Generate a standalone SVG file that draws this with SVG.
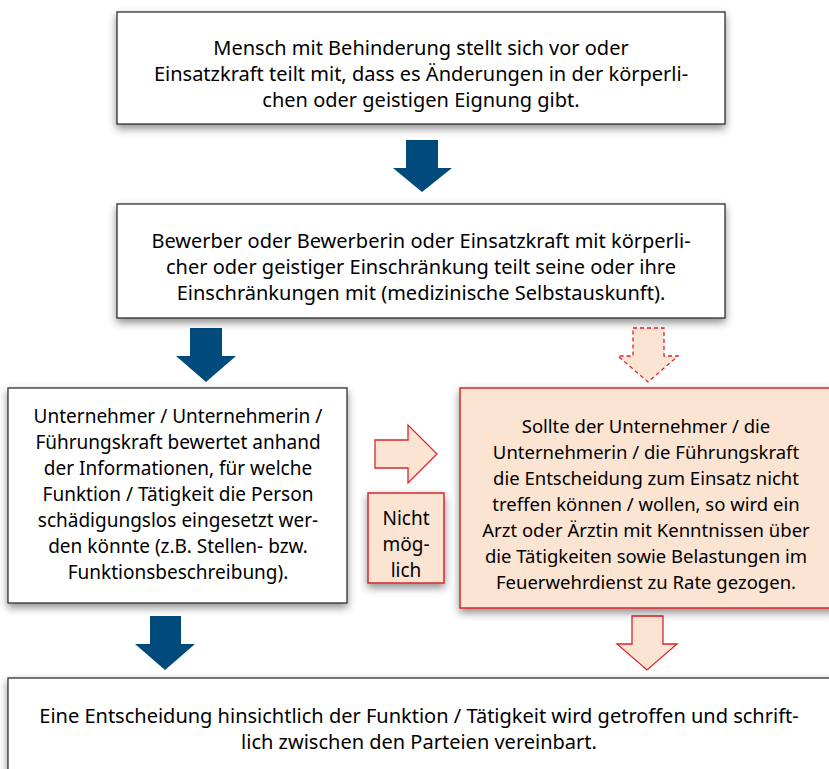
<svg xmlns="http://www.w3.org/2000/svg" width="829" height="769" viewBox="0 0 829 769">
<defs>
<filter id="sh" x="-10%" y="-10%" width="120%" height="130%">
<feDropShadow dx="0" dy="4" stdDeviation="4" flood-color="#000" flood-opacity="0.45"/>
</filter>
<style>
.box{fill:#fff;stroke:#222;stroke-width:1.2}
.rbox{fill:#fce4d3;stroke:#d9262e;stroke-width:1.5}
.blue{fill:#004a7c}
.rarr{fill:#fce4d3;stroke:#d9262e;stroke-width:1.3}
.darr{fill:#fce4d3;stroke:#d9262e;stroke-width:1.3;stroke-dasharray:4 3}
text{font-family:"Noto Sans","Open Sans",sans-serif;font-size:19px;fill:#000;text-anchor:middle}
.big{font-size:20px}
.sm{font-size:18.5px}
</style>
</defs>
<g id="connectors">
<path class="blue" d="M406,140 H438 V168 H452 L422,192 L393,168 H406 Z"/>
<path class="blue" d="M190,328 H222 V356 H236 L206,382 L176,356 H190 Z"/>
<path class="darr" d="M633,328 H664 V356 H678 L648,382 L618,356 H633 Z"/>
<path class="rarr" d="M375,440 H408 V425 L437,454 L408,483 V468 H375 Z"/>
<path class="blue" d="M150,616 H181 V644 H195 L165,670 L135,644 H150 Z"/>
<path class="rarr" d="M632,616 H663 V644 H677 L647,670 L617,644 H632 Z"/>
</g>
<g id="n1" class="big">
<rect class="box" x="117" y="12" width="608" height="112" filter="url(#sh)"/>
<text class="big" x="421" y="55">Mensch mit Behinderung stellt sich vor oder</text>
<text class="big" x="421" y="81">Einsatzkraft teilt mit, dass es Änderungen in der körperli-</text>
<text class="big" x="421" y="107">chen oder geistigen Eignung gibt.</text>
</g>
<g id="n2">
<rect class="box" x="117" y="204" width="608" height="114" filter="url(#sh)"/>
<text class="big" x="421" y="248">Bewerber oder Bewerberin oder Einsatzkraft mit körperli-</text>
<text class="big" x="421" y="274">cher oder geistiger Einschränkung teilt seine oder ihre</text>
<text class="big" x="421" y="300">Einschränkungen mit (medizinische Selbstauskunft).</text>
</g>
<g id="n3">
<rect class="box" x="8" y="388" width="339" height="215" filter="url(#sh)"/>
<text x="178" y="423">Unternehmer / Unternehmerin /</text>
<text x="178" y="449">Führungskraft bewertet anhand</text>
<text x="178" y="475">der Informationen, für welche</text>
<text x="178" y="501">Funktion / Tätigkeit die Person</text>
<text x="178" y="527">schädigungslos eingesetzt wer-</text>
<text x="178" y="553">den könnte (z.B. Stellen- bzw.</text>
<text x="178" y="579">Funktionsbeschreibung).</text>
</g>
<g id="n4">
<rect class="rbox" x="460" y="388" width="375" height="220" filter="url(#sh)"/>
<text class="sm" x="646" y="433">Sollte der Unternehmer / die</text>
<text class="sm" x="646" y="459">Unternehmerin / die Führungskraft</text>
<text class="sm" x="646" y="485">die Entscheidung zum Einsatz nicht</text>
<text class="sm" x="646" y="511">treffen können / wollen, so wird ein</text>
<text class="sm" x="646" y="537">Arzt oder Ärztin mit Kenntnissen über</text>
<text class="sm" x="646" y="563">die Tätigkeiten sowie Belastungen im</text>
<text class="sm" x="646" y="589">Feuerwehrdienst zu Rate gezogen.</text>
</g>
<g id="n5">
<rect class="rbox" x="368" y="493" width="76" height="90" filter="url(#sh)"/>
<text x="406" y="525">Nicht</text>
<text x="406" y="551">mög-</text>
<text x="406" y="577">lich</text>
</g>
<g id="n6">
<rect class="box" x="8" y="678" width="830" height="100" filter="url(#sh)"/>
<text class="big" x="419" y="723">Eine Entscheidung hinsichtlich der Funktion / Tätigkeit wird getroffen und schrift-</text>
<text class="big" x="419" y="749">lich zwischen den Parteien vereinbart.</text>
</g>
</svg>
